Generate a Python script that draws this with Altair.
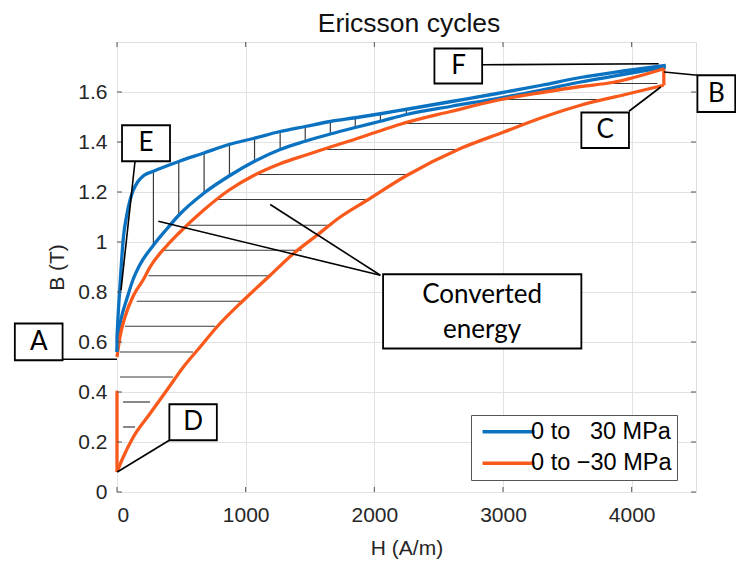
import altair as alt
import pandas as pd

# ---------------- curve samples: H in A/m, B in T ----------------
# 0 to 30 MPa cycle (blue)
blue_up_H = [0, 10, 20, 35, 50, 75, 100, 125, 160, 205, 283, 480, 670, 869, 1066,
             1268, 1463, 1658, 1852, 2047, 2241, 2600, 2955, 3300, 3603, 3950, 4265]
blue_up_B = [0.62, 0.72, 0.80, 0.92, 1.02, 1.105, 1.165, 1.205, 1.24, 1.265, 1.283, 1.322,
             1.355, 1.39, 1.415, 1.442, 1.462, 1.482, 1.497, 1.513, 1.53, 1.562, 1.594,
             1.627, 1.658, 1.685, 1.707]
blue_lo_H = [0, 20, 45, 75, 125, 179, 283, 387, 480, 677, 874, 1069, 1268, 1463, 1658,
             1852, 2047, 2249, 2600, 2955, 3300, 3603, 3950, 4265]
blue_lo_B = [0.56, 0.66, 0.72, 0.77, 0.85, 0.91, 0.987, 1.052, 1.107, 1.196, 1.265,
             1.323, 1.37, 1.403, 1.432, 1.458, 1.483, 1.51, 1.543, 1.574, 1.608, 1.64,
             1.672, 1.70]

# 0 to -30 MPa cycle (red)
red_up_H = [0, 23, 62, 127, 205, 257, 387, 480, 672, 869, 1066, 1268, 1463, 1658, 1813,
            2000, 2202, 2600, 2955, 3300, 3603, 3850, 4250]
red_up_B = [0.54, 0.62, 0.70, 0.785, 0.85, 0.90, 0.985, 1.035, 1.127, 1.207, 1.267, 1.313,
            1.347, 1.38, 1.405, 1.437, 1.471, 1.523, 1.567, 1.598, 1.622, 1.638, 1.693]
red_lo_H = [0, 40, 127, 257, 387, 516, 646, 776, 983, 1191, 1372, 1554, 1735, 1943, 2255,
            2669, 3006, 3300, 3603, 3950, 4249]
red_lo_B = [0.08, 0.13, 0.22, 0.314, 0.407, 0.50, 0.58, 0.66, 0.767, 0.867, 0.954, 1.027,
            1.10, 1.167, 1.267, 1.374, 1.44, 1.497, 1.547, 1.59, 1.627]

# straight vertical legs of the cycles: H, B start, B end
leg_series = ["blue", "red", "red"]
leg_H = [0, 0, 4250]
leg_B1 = [0.56, 0.08, 1.693]
leg_B2 = [0.62, 0.405, 1.627]

# hatching of the converted-energy areas
vh_H = [283, 480, 677, 874, 1069, 1268, 1463, 1658, 1852, 2047, 2249]
vh_top = [1.283, 1.322, 1.355, 1.392, 1.416, 1.443, 1.462, 1.482, 1.497, 1.513, 1.532]
vh_bot = [0.987, 1.107, 1.196, 1.265, 1.323, 1.37, 1.403, 1.432, 1.458, 1.483, 1.51]

hh_B = [0.26, 0.36, 0.46, 0.56, 0.663, 0.763, 0.865, 0.967, 1.067, 1.17, 1.27, 1.37,
        1.474, 1.57, 1.634]
hh_left = [47, 47, 23, 23, 62, 153, 244, 360, 560, 763, 1074, 1566, 2202, 3019, 3850]
hh_right = [140, 257, 436, 591, 763, 977, 1191, 1437, 1671, 1943, 2253, 2656, 3175, 3733, 4200]

# labelled boxes: H left/right, B bottom/top
box_name = ["A", "B", "C", "D", "E", "F", "conv"]
box_H1 = [-794, 4511, 3609, 407, 39, 2467, 2068]
box_H2 = [-423, 4805, 3979, 776, 412, 2838, 3609]
box_B1 = [0.527, 1.52, 1.376, 0.207, 1.323, 1.634, 0.574]
box_B2 = [0.674, 1.667, 1.518, 0.351, 1.467, 1.774, 0.871]

text_label = ["A", "B", "C", "D", "E", "F", "Converted", "energy"]
text_H = [-607, 4658, 3794, 591, 226, 2654, 2838, 2838]
text_B = [0.60, 1.594, 1.447, 0.279, 1.395, 1.703, 0.787, 0.647]

# leader lines from the boxes to the points of the cycles
lead_H1 = [-423, 4251, 3979, 407, 140, 2840, 2047, 2047]
lead_B1 = [0.531, 1.68, 1.523, 0.207, 1.323, 1.709, 0.867, 0.867]
lead_H2 = [0, 4511, 4226, 2, 31, 4210, 321, 1191]
lead_B2 = [0.531, 1.667, 1.62, 0.08, 0.807, 1.713, 1.083, 1.15]

x_ticks = [0, 1000, 2000, 3000, 4000]
y_ticks = [0, 0.2, 0.4, 0.6, 0.8, 1.0, 1.2, 1.4, 1.6]

TITLE = "Ericsson cycles"
S_POS = "0 to \u200730 MPa"
S_NEG = "0 to \u221230 MPa"
BLUE = "#0A72C0"
RED = "#F95A1C"

# ---------------- tables ----------------
rows = []
for series, seg, Hs, Bs in [(S_POS, "bu", blue_up_H, blue_up_B),
                            (S_POS, "bl", blue_lo_H, blue_lo_B),
                            (S_NEG, "ru", red_up_H, red_up_B),
                            (S_NEG, "rl", red_lo_H, red_lo_B)]:
    for i, (h, b) in enumerate(zip(Hs, Bs)):
        rows.append({"series": series, "seg": seg, "order": i, "H": h, "B": b})
curves = pd.DataFrame(rows)

legs = pd.DataFrame({"col": [BLUE if s == "blue" else RED for s in leg_series],
                     "H": leg_H, "B": leg_B1, "B2": leg_B2})
vhatch = pd.DataFrame({"H": vh_H, "B": vh_bot, "B2": vh_top})
hhatch = pd.DataFrame({"H": hh_left, "H2": hh_right, "B": hh_B})
boxes = pd.DataFrame({"name": box_name, "H": box_H1, "H2": box_H2, "B": box_B1, "B2": box_B2})
texts = pd.DataFrame({"label": text_label, "H": text_H, "B": text_B})
leaders = pd.DataFrame({"H": lead_H1, "B": lead_B1, "H2": lead_H2, "B2": lead_B2})
xt = pd.DataFrame({"H": x_ticks})
yt = pd.DataFrame({"B": y_ticks})
title_df = pd.DataFrame({"t": [TITLE]})

# ---------------- scales / axes ----------------
W, HGT = 579, 450
xs = alt.Scale(domain=[0, 4500], nice=False, zero=False)
ys = alt.Scale(domain=[0, 1.8], nice=False, zero=False)
AX_FONT = "Liberation Sans"
x_axis = alt.Axis(values=x_ticks, format="d", ticks=False, domain=False, grid=True,
                  gridColor="#e2e2e2", gridWidth=1, labelFont=AX_FONT, labelFontSize=21,
                  labelColor="#262626", labelPadding=12, titleFont=AX_FONT, titleFontSize=21,
                  titleFontWeight="normal", titleColor="#262626", titlePadding=12)
y_axis = alt.Axis(values=y_ticks, format="~g", ticks=False, domain=False, grid=True,
                  gridColor="#e2e2e2", gridWidth=1, labelFont=AX_FONT, labelFontSize=21,
                  labelColor="#262626", labelPadding=10, titleFont=AX_FONT, titleFontSize=21,
                  titleFontWeight="normal", titleColor="#262626", titlePadding=10)


def X(field="H"):
    return alt.X(f"{field}:Q", scale=xs, axis=x_axis, title="H (A/m)")


def Y(field="B"):
    return alt.Y(f"{field}:Q", scale=ys, axis=y_axis, title="B (T)")


# ---------------- layers ----------------
hatch_v = alt.Chart(vhatch).mark_rule(color="#3a3a3a", strokeWidth=1.2).encode(
    x=X(), y=Y(), y2="B2:Q")
hatch_h = alt.Chart(hhatch).mark_rule(color="#3a3a3a", strokeWidth=1.2).encode(
    x=X(), x2="H2:Q", y=Y())

# legend swatch: a long line drawn from a small symbol slot (keeps rows compact)
color = alt.Color(
    "series:N",
    scale=alt.Scale(domain=[S_POS, S_NEG], range=[BLUE, RED]),
    legend=alt.Legend(orient="none", legendX=354, legendY=373, title=None,
                      symbolType="M-1,0L9,0", symbolSize=108, symbolStrokeWidth=3.5,
                      labelFont=AX_FONT, labelFontSize=23.5, labelColor="#000",
                      labelOffset=31.6, padding=5, rowPadding=6.5, labelLimit=400,
                      strokeColor="#555", fillColor="white", cornerRadius=0),
)
lines = alt.Chart(curves).mark_line(strokeWidth=3.3, interpolate="monotone").encode(
    x=X(), y=Y(), color=color, detail="seg:N", order="order:Q")
leg_rules = alt.Chart(legs).mark_rule(strokeWidth=3.3).encode(
    x=X(), y=Y(), y2="B2:Q", color=alt.Color("col:N", scale=None))

# inward ticks on all four sides of the box
TICK = "#555"
t_bottom = alt.Chart(xt).mark_rule(color=TICK).encode(
    x=X(), y=alt.value(HGT), y2=alt.value(HGT - 5))
t_top = alt.Chart(xt).mark_rule(color=TICK).encode(
    x=X(), y=alt.value(0), y2=alt.value(5))
t_left = alt.Chart(yt).mark_rule(color=TICK).encode(
    y=Y(), x=alt.value(0), x2=alt.value(5))
t_right = alt.Chart(yt).mark_rule(color=TICK).encode(
    y=Y(), x=alt.value(W), x2=alt.value(W - 5))

lead = alt.Chart(leaders).mark_rule(color="black", strokeWidth=1.6).encode(
    x=X(), y=Y(), x2="H2:Q", y2="B2:Q")
rects = alt.Chart(boxes).mark_rect(fill="white", stroke="black", strokeWidth=1.8).encode(
    x=X(), x2="H2:Q", y=Y(), y2="B2:Q")
labels = alt.Chart(texts).mark_text(font="Lato", fontSize=26, color="black",
                                    align="center", baseline="middle").encode(
    x=X(), y=Y(), text="label:N")

# chart title, centred over the box
title = alt.Chart(title_df).mark_text(font=AX_FONT, fontSize=26.5, color="#111",
                                      align="center", baseline="alphabetic").encode(
    x=alt.value(292), y=alt.value(-10), text="t:N")

chart = alt.layer(
    hatch_v, hatch_h, lines, leg_rules, t_bottom, t_top, t_left, t_right, lead, rects,
    labels, title
).properties(
    width=W, height=HGT,
    autosize=alt.AutoSizeParams(type="none"),
    padding={"left": 117, "top": 42, "right": 40, "bottom": 69},
).configure_view(stroke="#555", strokeWidth=1).configure(background="white")

chart.save("out.html", embed_options={"renderer": "svg", "actions": False})
